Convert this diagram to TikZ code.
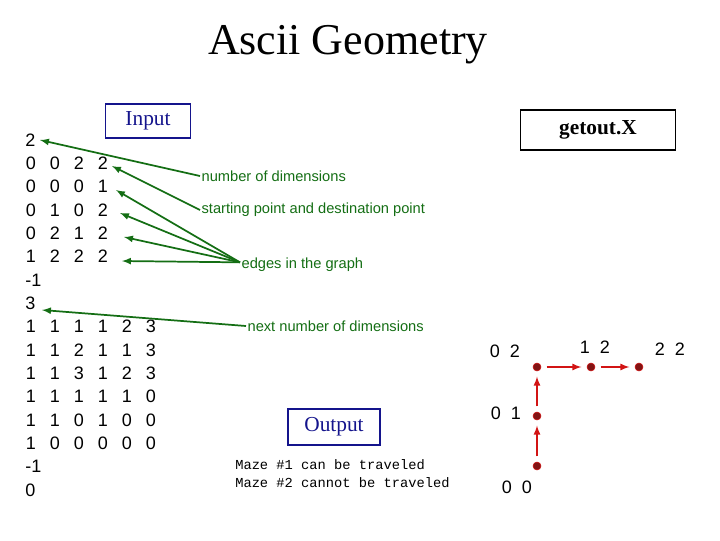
\documentclass[tikz,border=0pt]{standalone}
\usepackage{fontspec}
\setmainfont{Liberation Serif}
\newfontfamily\arial{Liberation Sans}
\newfontfamily\cour{Liberation Mono}
\definecolor{gr}{RGB}{20,110,20}
\definecolor{nv}{RGB}{20,20,140}
\definecolor{rd}{RGB}{210,20,20}
\definecolor{dt}{RGB}{130,20,20}
\begin{document}
\begin{tikzpicture}[x=0.75pt,y=-0.75pt,
  num/.style={font=\arial\fontsize{13.5}{15}\selectfont,inner sep=0pt,anchor=base},
  lab/.style={font=\arial\fontsize{11}{12}\selectfont,text=gr,inner sep=1pt,anchor=west},
  garr/.style={draw=gr,line width=1.3pt,-latex},
  box/.style={draw,thick,inner sep=0pt},
  dot/.style={circle,fill=dt,draw=rd,inner sep=0pt,minimum size=6pt},
  rarr/.style={draw=rd,line width=1.3pt,-latex,shorten >=4pt,shorten <=4pt}]
\useasboundingbox (0,0) rectangle (720,540);
\node[font=\fontsize{33}{36}\selectfont,inner sep=0pt] (title) at (348,45) {Ascii Geometry};
\node[box,draw=nv,minimum width=85*0.75pt,minimum height=34*0.75pt,text=nv,font=\fontsize{16}{18}\selectfont] (inp) at (148,121) {Input};
\node[box,draw=black,minimum width=155*0.75pt,minimum height=40*0.75pt,font=\bfseries\fontsize{16}{18}\selectfont] (getout) at (598,130) {getout.X};
\node[box,draw=nv,minimum width=92*0.75pt,minimum height=36*0.75pt,text=nv,font=\fontsize{16}{18}\selectfont] (outp) at (334,427) {Output};
% left column
\foreach \r/\txt in {0/2,6/-1,7/3,14/-1,15/0}{
  \node[num,anchor=base west] (s\r) at (25,{146+23.35*\r}) {\txt};
}
\foreach \r/\a/\b/\c/\d in {1/0/0/2/2,2/0/0/0/1,3/0/1/0/2,4/0/2/1/2,5/1/2/2/2}{
  \foreach \v/\x [count=\j] in {\a/31,\b/55,\c/79,\d/103}{
    \node[num] (c\r-\j) at (\x,{146+23.35*\r}) {\v};
  }
}
\foreach \r/\a/\b/\c/\d/\e/\f in {8/1/1/1/1/2/3,9/1/1/2/1/1/3,10/1/1/3/1/2/3,11/1/1/1/1/1/0,12/1/1/0/1/0/0,13/1/0/0/0/0/0}{
  \foreach \v/\x [count=\j] in {\a/31,\b/55,\c/79,\d/103,\e/127,\f/151}{
    \node[num] (c\r-\j) at (\x,{146+23.35*\r}) {\v};
  }
}
\coordinate (t0) at (40,140);
\coordinate (t1) at (112,166);
\coordinate (t2) at (116,190);
\coordinate (t3) at (120,213);
\coordinate (t4) at (124,237);
\coordinate (t5) at (122,261);
\coordinate (t7) at (42,310);
\node[lab] (nd) at (200,176) {number of dimensions};
\node[lab] (sp) at (200,210) {starting point and destination point};
\node[lab] (eg) at (240,265) {edges in the graph};
\node[lab] (nn) at (246,326) {next number of dimensions};
\draw[garr] (nd.west) -- (t0);
\draw[garr] (sp.west) -- (t1);
\foreach \k in {2,3,4,5}{\draw[garr] ([yshift=2pt]eg.west) -- (t\k);}
\draw[garr] (nn.west) -- (t7);
\node[font=\cour\fontsize{10.3}{11}\selectfont,anchor=base west,inner sep=0pt] (m1) at (235,469) {Maze \#1 can be traveled};
\node[font=\cour\fontsize{10.3}{11}\selectfont,anchor=base west,inner sep=0pt] (m2) at (235,487) {Maze \#2 cannot be traveled};
% graph
\node[dot] (d02) at (537,367) {};
\node[dot] (d12) at (591,367) {};
\node[dot] (d22) at (639,367) {};
\node[dot] (d01) at (537,416) {};
\node[dot] (d00) at (537,466) {};
\draw[rarr] (d00) -- (d01);
\draw[rarr] (d01) -- (d02);
\draw[rarr] (d02) -- (d12);
\draw[rarr] (d12) -- (d22);
\node[num] (l02) at (505,357) {0\ \ 2};
\node[num] (l12) at (595,353) {1\ \ 2};
\node[num] (l22) at (670,355) {2\ \ 2};
\node[num] (l01) at (506,419) {0\ \ 1};
\node[num] (l00) at (517,493) {0\ \ 0};
\end{tikzpicture}
\end{document}
